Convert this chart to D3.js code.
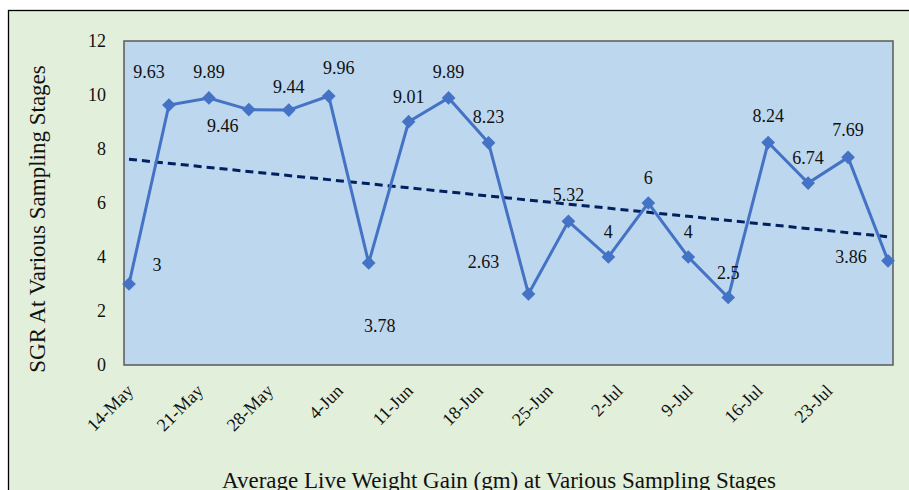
<!DOCTYPE html>
<html>
<head>
<meta charset="utf-8">
<script src="https://cdn.jsdelivr.net/npm/d3@7"></script>
<style>
  html, body { margin: 0; padding: 0; background: #fff; }
  svg text { font-family: "Liberation Serif", "Times New Roman", serif; fill: #111; }
</style>
</head>
<body>
<div id="wrap"></div>
<script>
// sampling dates and SGR values
const dates = ["2021-05-14","2021-05-18","2021-05-22","2021-05-26","2021-05-30",
  "2021-06-03","2021-06-07","2021-06-11","2021-06-15","2021-06-19",
  "2021-06-23","2021-06-27","2021-07-01","2021-07-05","2021-07-09",
  "2021-07-13","2021-07-17","2021-07-21","2021-07-25","2021-07-29"];
const sgr = [3, 9.63, 9.89, 9.46, 9.44, 9.96, 3.78, 9.01, 9.89, 8.23,
  2.63, 5.32, 4, 6, 4, 2.5, 8.24, 6.74, 7.69, 3.86];
const labels = ["3","9.63","9.89","9.46","9.44","9.96","3.78","9.01","9.89","8.23",
  "2.63","5.32","4","6","4","2.5","8.24","6.74","7.69","3.86"];
const tickDates = ["2021-05-14","2021-05-21","2021-05-28","2021-06-04","2021-06-11",
  "2021-06-18","2021-06-25","2021-07-02","2021-07-09","2021-07-16","2021-07-23"];
const yTicks = [0, 2, 4, 6, 8, 10, 12];
// linear trend line ends (first and last sample)
const trend = [7.62, 4.75];

// manual label offsets (dx, dy from the marker)
const labelOffset = [[28,-19],[-20,-33],[0,-26],[-26,16],[0,-23],[10,-28],[11,63],[0,-25],
  [0,-26],[0,-26],[-45,-32],[0,-26],[0,-25],[0,-25],[0,-25],[0,-25],[0,-27],[0,-25],[0,-27],[-37,-4]];

const width = 909, height = 490;
const plot = { left: 124, right: 893, top: 41, bottom: 365 };
const parse = d3.timeParse("%Y-%m-%d");
const serif = "Liberation Serif";

const x = d3.scaleTime()
  .domain([parse("2021-05-13").getTime() + 12 * 3600e3, parse("2021-07-29").getTime() + 12 * 3600e3])
  .range([plot.left, plot.right]);
const y = d3.scaleLinear().domain([0, 12]).range([plot.bottom, plot.top]);

const data = dates.map((d, i) => ({ date: parse(d), v: sgr[i], label: labels[i], off: labelOffset[i] }));

const svg = d3.select("#wrap").append("svg")
  .attr("width", width).attr("height", height)
  .attr("font-family", serif);

// chart area
svg.append("rect")
  .attr("x", 8.5).attr("y", 10.5)
  .attr("width", 920).attr("height", 500)
  .attr("fill", "#e2efda").attr("stroke", "#000").attr("stroke-width", 1.3);

// plot area
svg.append("rect")
  .attr("x", plot.left).attr("y", plot.top)
  .attr("width", plot.right - plot.left).attr("height", plot.bottom - plot.top)
  .attr("fill", "#bdd7ee").attr("stroke", "#595959").attr("stroke-width", 1.5);

// y axis
const yAxis = d3.axisLeft(y).tickValues(yTicks).tickSize(0).tickPadding(18);
svg.append("g")
  .attr("transform", `translate(${plot.left},0)`)
  .call(yAxis)
  .attr("font-family", serif)
  .call(g => g.select(".domain").remove())
  .selectAll("text")
  .style("font-size", "18px").attr("fill", "#111");

// x axis
const xAxis = d3.axisBottom(x)
  .tickValues(tickDates.map(parse))
  .tickSize(0)
  .tickFormat(d3.timeFormat("%-d-%b"));
svg.append("g")
  .attr("transform", `translate(0,${plot.bottom})`)
  .call(xAxis)
  .attr("font-family", serif)
  .call(g => g.select(".domain").remove())
  .selectAll("text")
  .style("font-size", "18px").attr("fill", "#111")
  .attr("text-anchor", "end")
  .attr("dy", 0)
  .attr("y", 0)
  .attr("transform", "translate(5,27) rotate(-45)");

// trend line
svg.append("line")
  .attr("x1", x(data[0].date)).attr("y1", y(trend[0]))
  .attr("x2", x(data[data.length - 1].date)).attr("y2", y(trend[1]))
  .attr("stroke", "#002060").attr("stroke-width", 3)
  .attr("stroke-dasharray", "8,5");

// series line
const line = d3.line().x(d => x(d.date)).y(d => y(d.v));
svg.append("path")
  .datum(data)
  .attr("d", line)
  .attr("fill", "none")
  .attr("stroke", "#4472c4").attr("stroke-width", 3);

// markers
svg.append("g").selectAll("path")
  .data(data).join("path")
  .attr("d", d3.symbol(d3.symbolDiamond2, 120))
  .attr("transform", d => `translate(${x(d.date)},${y(d.v)})`)
  .attr("fill", "#4472c4");

// data labels
svg.append("g").selectAll("text")
  .data(data).join("text")
  .attr("x", d => x(d.date) + d.off[0])
  .attr("y", d => y(d.v) + d.off[1])
  .attr("text-anchor", "middle")
  .attr("dominant-baseline", "central")
  .style("font-size", "18px")
  .text(d => d.label);

// axis titles
svg.append("text")
  .attr("transform", "translate(37,219) rotate(-90)")
  .attr("text-anchor", "middle")
  .attr("dominant-baseline", "central")
  .style("font-size", "23px")
  .text("SGR At Various Sampling Stages");

svg.append("text")
  .attr("x", 499).attr("y", 488)
  .attr("text-anchor", "middle")
  .style("font-size", "23px")
  .text("Average Live Weight Gain (gm) at Various Sampling Stages");
</script>
</body>
</html>
